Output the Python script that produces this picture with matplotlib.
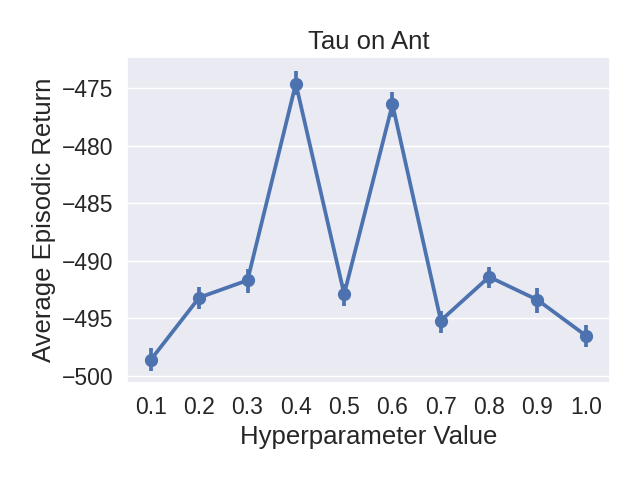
import matplotlib
matplotlib.use('Agg')
import matplotlib.pyplot as plt
import numpy as np
import seaborn as sns

hyper_values = ['0.1', '0.2', '0.3', '0.4', '0.5', '0.6', '0.7', '0.8', '0.9', '1.0']
mean_return = [-498.6, -493.2, -491.7, -474.6, -492.9, -476.4, -495.2, -491.4, -493.4, -496.5]
ci_low = [-499.6, -494.2, -492.8, -475.6, -493.9, -477.5, -496.3, -492.4, -494.5, -497.5]
ci_high = [-497.6, -492.3, -490.7, -473.5, -492.0, -475.3, -494.4, -490.5, -492.4, -495.6]

sns.set_theme(style='darkgrid')
plt.rcParams['font.family'] = ['Liberation Sans', 'DejaVu Sans']

color = sns.color_palette('deep')[0]
x = np.arange(len(hyper_values))
mean = np.array(mean_return)
yerr = [mean - np.array(ci_low), np.array(ci_high) - mean]

fig, ax = plt.subplots(figsize=(6.4, 4.8), dpi=100)
ax.errorbar(x, mean, yerr=yerr, color=color, lw=2.7, elinewidth=2.7,
            marker='o', markersize=8.5, capsize=0)
ax.set_xticks(x)
ax.set_xticklabels(hyper_values)
ax.set_xlim(-0.5, len(hyper_values) - 0.5)
ax.set_ylim(-500.63, -472.3)
ax.xaxis.grid(False)
ax.tick_params(labelsize=16.5)
ax.set_xlabel('Hyperparameter Value', fontsize=18.5)
ax.set_ylabel('Average Episodic Return', fontsize=18.5)
ax.set_title('Tau on Ant', fontsize=18.5)
fig.subplots_adjust(left=0.198, right=0.953, top=0.881, bottom=0.202)
fig.savefig('out.png', dpi=100)
